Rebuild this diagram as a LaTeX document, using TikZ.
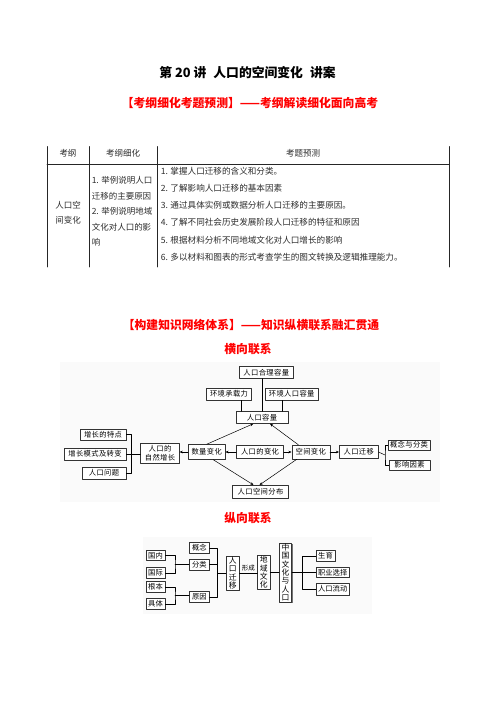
\documentclass[tikz,border=0pt]{standalone}
\usepackage{fontspec}
\setmainfont{Noto Sans CJK SC}
\usetikzlibrary{arrows.meta,shadows}
\definecolor{headred}{RGB}{255,0,0}
\definecolor{tabtext}{RGB}{45,45,45}

\tikzset{
  box/.style={draw=black!80, fill=white, inner sep=1pt, line width=0.5pt,
    font=\fontsize{7.3}{9}\selectfont\addfontfeature{LetterSpace=5},
    drop shadow={shadow xshift=0.8pt, shadow yshift=-0.8pt, fill=black!55, opacity=1}},
  smallbox/.style={box, font=\fontsize{7.3}{9}\selectfont},
  vbox/.style={box, align=center, font=\fontsize{7.8}{8.3}\selectfont},
  redhead/.style={text=headred, font=\bfseries\fontsize{11.8}{13}\selectfont, inner sep=0pt},
  tabcell/.style={text=tabtext, font=\fontsize{8.5}{10}\selectfont, inner sep=0pt},
  arr/.style={-{Stealth[length=3.2pt,width=2.6pt]}},
}

\begin{document}
\begin{tikzpicture}[x=1pt, y=-1pt, line width=0.5pt, line cap=round, line join=round]

  \fill[white] (0,0) rectangle (496,702);

  %% ════ 标题 ════
  \node[inner sep=0pt, font=\bfseries\fontsize{12.8}{14}\selectfont] (title) at (247.5,73)
    {第 20 讲\hspace{7pt}人口的空间变化\hspace{7pt}讲案};
  \node[redhead] (head1) at (250,103) {【考纲细化考题预测】——考纲解读细化面向高考};

  %% ════ 表格（只有竖线和表头下的横线）════
  \draw[black!85, line width=0.6pt] (47,146.5) -- (47,267);
  \draw[black!85, line width=0.6pt] (89,146.5) -- (89,267);
  \draw[black!85, line width=0.6pt] (157,146.5) -- (157,267);
  \draw[black!85, line width=0.6pt] (449,146.5) -- (449,267);
  \draw[black!85, line width=0.6pt] (47,164) -- (449,164);

  \node[tabcell] (th1) at (68,153.5) {考纲};
  \node[tabcell] (th2) at (123,153.5) {考纲细化};
  \node[tabcell] (th3) at (303,153.5) {考题预测};
  \node[tabcell, align=center, font=\fontsize{8.5}{15}\selectfont] (tc1) at (68,212.5) {人口空\\间变化};
  \node[tabcell, align=left, anchor=west, font=\fontsize{8.5}{15.5}\selectfont] (tc2) at (91.5,211.5)
    {1. 举例说明人口\\迁移的主要原因\\2. 举例说明地域\\文化对人口的影\\响};
  \node[tabcell, align=left, anchor=west, font=\fontsize{8.6}{17.25}\selectfont] (tc3) at (160.5,214)
    {1. 掌握人口迁移的含义和分类。\\
     2. 了解影响人口迁移的基本因素\\
     3. 通过具体实例或数据分析人口迁移的主要原因。\\
     4. 了解不同社会历史发展阶段人口迁移的特征和原因\\
     5. 根据材料分析不同地域文化对人口增长的影响\\
     6. 多以材料和图表的形式考查学生的图文转换及逻辑推理能力。};

  %% ════ 知识网络标题 ════
  \node[redhead] (head2) at (251,325) {【构建知识网络体系】——知识纵横联系融汇贯通};
  \node[redhead] (heng) at (248,349) {横向联系};

  %% ════ 横向联系 ════
  \fill[black!2] (60,362) rectangle (440,502);

  \node[box, minimum width=54pt, minimum height=11.7pt] (hlrl) at (266.3,372.5) {人口合理容量};
  \node[box, minimum width=45pt, minimum height=12pt] (hjcz) at (229,394) {环境承载力};
  \node[box, minimum width=53pt, minimum height=12pt] (hjrk) at (291.7,394) {环境人口容量};
  \node[box, minimum width=52pt, minimum height=12pt] (rkrl) at (262,417.5) {人口容量};
  \node[box, minimum width=46pt, minimum height=11pt] (zztd) at (103,434.7) {增长的特点};
  \node[box, minimum width=62pt, minimum height=12pt] (zzms) at (95,454) {增长模式及转变};
  \node[box, minimum width=44pt, minimum height=12pt] (rkwt) at (104,473) {人口问题};
  \node[box, align=center, minimum width=38.6pt, minimum height=20pt,
        font=\fontsize{7.3}{8.5}\selectfont\addfontfeature{LetterSpace=5}] (zrzz) at (160,453.3) {人口的\\自然增长};
  \node[box, minimum width=37pt, minimum height=15pt] (slbh) at (206.7,452) {数量变化};
  \node[box, minimum width=47pt, minimum height=13pt] (rkbh) at (260,452) {人口的变化};
  \node[box, minimum width=38pt, minimum height=14pt] (kjbh) at (310.8,452) {空间变化};
  \node[box, minimum width=39pt, minimum height=13pt] (rkqy) at (358.8,452) {人口迁移};
  \node[box, minimum width=42pt, minimum height=10pt] (gnfl) at (409,445) {概念与分类};
  \node[box, minimum width=41pt, minimum height=10pt] (yxys) at (409.5,465) {影响因素};
  \node[box, minimum width=56pt, minimum height=13pt] (kjfb) at (260.5,491.7) {人口空间分布};

  \coordinate (brkL) at (131.7,454);
  \coordinate (brkR) at (385,455);

  % 上方三条竖线
  \draw (rkrl.north) -- (rkrl.north |- hlrl.south);
  \draw ([xshift=12.7pt]hjcz.south) -- ([xshift=12.7pt]hjcz.south |- rkrl.north);
  \draw ([xshift=-9.4pt]hjrk.south) -- ([xshift=-9.4pt]hjrk.south |- rkrl.north);

  % 左右两个括号
  \draw (zztd.east) -| (brkL) |- (rkwt.east);
  \draw (zzms.east) -- (zzms.east -| zrzz.west);
  \draw (rkqy.east) -- (brkR);
  \draw (gnfl.west) -| (brkR) |- (yxys.west);

  % 中间一行箭头
  \draw[arr] (rkbh.west) -- (slbh.east);
  \draw[arr] (rkbh.east) -- (kjbh.west);
  \draw[arr] (slbh.west) -- (slbh.west -| zrzz.east);
  \draw[arr] (kjbh.east) -- (rkqy.west);

  % 斜线
  \draw[arr] (slbh.north) -- ([xshift=-8.7pt]rkrl.south);
  \draw[arr] ([xshift=-12.5pt]kjbh.north) -- ([xshift=8pt]rkrl.south);
  \draw[arr] ([xshift=6.6pt]slbh.south) -- ([xshift=-7pt]kjfb.north);
  \draw[arr] ([xshift=-14pt]kjbh.south) -- ([xshift=-1pt]kjfb.north);

  %% ════ 纵向联系 ════
  \node[redhead] (zong) at (248,518.3) {纵向联系};
  \fill[black!2] (143,537) rectangle (372,614);

  \node[smallbox, minimum width=19pt, minimum height=10.7pt] (gn) at (155.5,555.3) {国内};
  \node[smallbox, minimum width=19pt, minimum height=10.7pt] (gj) at (155.5,573) {国际};
  \node[smallbox, minimum width=19pt, minimum height=10.7pt] (gb) at (155.5,587) {根本};
  \node[smallbox, minimum width=19pt, minimum height=10.7pt] (jt) at (155.5,604) {具体};
  \node[smallbox, minimum width=20pt, minimum height=10.7pt] (gnn) at (199.3,548) {概念};
  \node[smallbox, minimum width=20pt, minimum height=10.7pt] (fl) at (199.3,564.7) {分类};
  \node[smallbox, minimum width=20pt, minimum height=10.7pt] (yy) at (199.3,597) {原因};
  \node[vbox, minimum width=13pt, minimum height=33pt] (qy) at (232.7,573) {人\\口\\迁\\移};
  \node[vbox, minimum width=12.3pt, minimum height=34pt] (dy) at (263.8,572.2) {地\\域\\文\\化};
  \node[vbox, minimum width=12.4pt, minimum height=55pt] (zg) at (285.5,572.5) {中\\国\\文\\化\\与\\人\\口};
  \node[smallbox, minimum width=19pt, minimum height=11pt] (sy) at (325.5,556) {生育};
  \node[smallbox, minimum width=33pt, minimum height=10pt] (zy) at (332.7,572.3) {职业选择};
  \node[smallbox, minimum width=33pt, minimum height=11.7pt] (ld) at (332.7,589) {人口流动};

  \coordinate (b1) at (175,564.2);
  \coordinate (b2) at (175,595.5);
  \coordinate (b3) at (217.3,573);
  \coordinate (b4) at (302.7,572.3);

  \draw (gn.east) -| (b1) |- (gj.east);
  \draw (b1) -- (b1 -| fl.west);
  \draw (gb.east) -| (b2) |- (jt.east);
  \draw (b2) -- (b2 -| yy.west);
  \draw (gnn.east) -| (b3) |- (yy.east);
  \draw (fl.east) -- (fl.east -| b3);
  \draw (b3) -- (b3 -| qy.west);
  \draw (qy.east) -- node[above, inner sep=1.5pt, font=\fontsize{6.5}{7}\selectfont] {形成} (qy.east -| dy.west);
  \draw (dy.east) -- (dy.east -| zg.west);
  \draw (zg.east) -- (zg.east -| zy.west);
  \draw (sy.west) -| (b4) |- (ld.west);

  % 钉死画布
  \pgfresetboundingbox
  \path[use as bounding box] (0,0) rectangle (496,702);
\end{tikzpicture}
\end{document}
